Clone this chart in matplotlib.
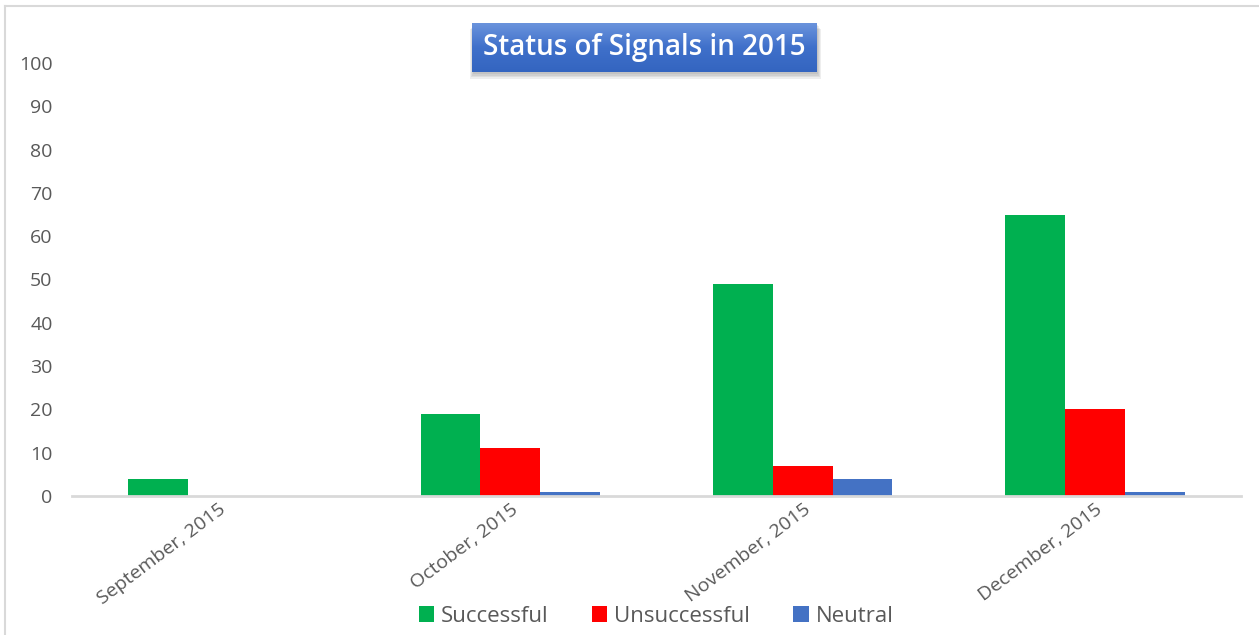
import matplotlib
matplotlib.use("Agg")
import matplotlib.pyplot as plt
from matplotlib.lines import Line2D
from matplotlib.patches import Rectangle
from matplotlib.colors import LinearSegmentedColormap
import numpy as np

months = ["September, 2015", "October, 2015", "November, 2015", "December, 2015"]
successful = [4, 19, 49, 65]
unsuccessful = [0, 11, 7, 20]
neutral = [0, 1, 4, 1]
series_names = ["Successful", "Unsuccessful", "Neutral"]
series_colors = ["#00B050", "#FF0000", "#4472C4"]

plt.rcParams['font.family'] = ['Open Sans', 'DejaVu Sans']
text_gray = "#595959"

fig = plt.figure(figsize=(12.59, 6.35), dpi=100)
W, H = 1259, 635

# outer frame (top and left edges only are visible)
fig.add_artist(Line2D([5 / W, 1], [1 - 6 / H, 1 - 6 / H], color="#D9D9D9", lw=1.5))
fig.add_artist(Line2D([5 / W, 5 / W], [0, 1 - 6 / H], color="#D9D9D9", lw=1.5))

ax = fig.add_axes([72 / W, 1 - 496 / H, (1241 - 72) / W, (496 - 63) / H])
x = np.arange(len(months))
w = 0.205
for i, (vals, name, col) in enumerate(zip([successful, unsuccessful, neutral], series_names, series_colors)):
    ax.bar(x + (i - 1) * w, vals, width=w, color=col, label=name, zorder=2)

ax.set_xlim(-0.5, len(months) - 0.5)
ax.set_ylim(0, 100)
ax.set_yticks(range(0, 101, 10))
for s in ["top", "right", "left"]:
    ax.spines[s].set_visible(False)
ax.spines["bottom"].set_color("#D9D9D9")
ax.spines["bottom"].set_linewidth(2)
ax.tick_params(axis="y", length=0, labelsize=14, labelcolor=text_gray, pad=14)
ax.tick_params(axis="x", length=0, labelsize=14, labelcolor=text_gray, pad=3)
ax.set_xticks(x)
ax.set_xticklabels(months, rotation=37, ha="right", rotation_mode="anchor")

# legend at the bottom
ax.legend(loc="center", bbox_to_anchor=(656 / W, 1 - 616 / H), bbox_transform=fig.transFigure,
          ncol=3, frameon=False, fontsize=16, handlelength=0.7, handleheight=0.7,
          handletextpad=0.3, columnspacing=1.95, labelcolor=text_gray)

# title box with gradient and soft shadow
bx0, bx1, by0, by1 = 472, 817, 23, 72
for k in range(4):
    shadow = Rectangle(((bx0 + 1 - k) / W, 1 - (by1 + 2 + k * 1.5) / H), (bx1 - bx0 + 2 * k) / W,
                       (by1 - by0) / H, transform=fig.transFigure, facecolor="#444444",
                       alpha=0.09, edgecolor="none", zorder=2)
    fig.add_artist(shadow)
tax = fig.add_axes([bx0 / W, 1 - by1 / H, (bx1 - bx0) / W, (by1 - by0) / H])
tax.set_zorder(3)
grad = np.linspace(0, 1, 50).reshape(-1, 1)
cmap = LinearSegmentedColormap.from_list("tb", ["#6A93DC", "#3F70CA", "#3465C0"])
tax.imshow(grad, aspect="auto", cmap=cmap, extent=[0, 1, 0, 1], origin="upper")
tax.set_axis_off()
tax.text(0.5, 0.5, "Status of Signals in 2015", color="white", fontsize=20, fontweight="semibold",
         ha="center", va="center", transform=tax.transAxes)

fig.savefig("out.png", dpi=100)
